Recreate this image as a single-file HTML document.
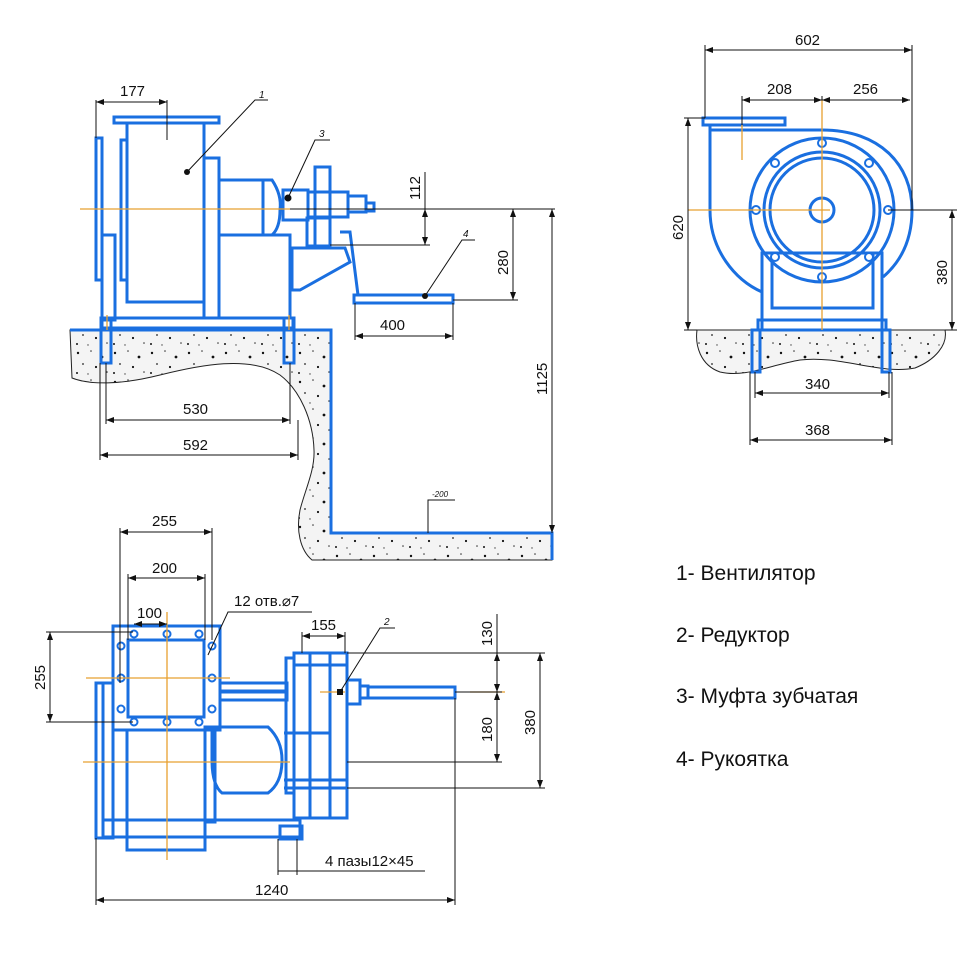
<!DOCTYPE html>
<html><head><meta charset="utf-8"><style>
html,body{margin:0;padding:0;background:#fff}
svg{display:block}
text{font-family:"Liberation Sans",sans-serif;fill:#111}
</style></head><body>
<svg width="970" height="970" viewBox="0 0 970 970" xmlns="http://www.w3.org/2000/svg">
<defs>
<pattern id="dots" width="37" height="29" patternUnits="userSpaceOnUse">
<rect width="37" height="29" fill="#f4f4f4"/>
<circle cx="4" cy="5" r="1.2" fill="#111"/><circle cx="17" cy="3" r="0.8" fill="#333"/>
<circle cx="28" cy="9" r="1.4" fill="#111"/><circle cx="9" cy="16" r="0.9" fill="#222"/>
<circle cx="22" cy="19" r="1.1" fill="#111"/><circle cx="33" cy="24" r="0.8" fill="#333"/>
<circle cx="3" cy="25" r="1" fill="#111"/><circle cx="14" cy="26" r="0.7" fill="#444"/>
</pattern>
<marker id="a" viewBox="0 0 8 6" refX="8" refY="3" markerWidth="8" markerHeight="6" orient="auto-start-reverse"><path d="M0,0 L8,3 L0,6 Z" fill="#111"/></marker>
</defs>

<path d="M70,330 L331,330 L331,533 L552,533 L552,560 L312,560 C300,550 296,530 300,510 C305,490 315,470 314,450 C313,420 300,390 280,375 C250,355 200,365 160,375 C120,385 90,385 72,378 Z" fill="url(#dots)" stroke="#222" stroke-width="1"/>
<path d="M70,330 L331,330 L331,533 L552,533 L552,560" fill="none" stroke="#1a6fe0" stroke-width="3"/>
<path d="M697,330 L945,330 C948,345 935,360 915,368 C880,375 840,355 800,360 C770,365 745,378 720,372 C700,365 695,345 697,330 Z" fill="url(#dots)" stroke="#222" stroke-width="1"/>

<g fill="none" stroke="#1a6fe0" stroke-width="3">
<rect x="114" y="117" width="105" height="6"/>
<rect x="127" y="123" width="77" height="179"/>
<rect x="96" y="138" width="6" height="142"/>
<rect x="121" y="140" width="6" height="140"/>
<rect x="102" y="235" width="13" height="85"/>
<rect x="204" y="158" width="15" height="160"/>
<rect x="219" y="180" width="44" height="55"/>
<path d="M263,180 L272,180 Q282,195 280,210 Q280,228 272,235 L263,235"/>
<rect x="219" y="235" width="71" height="83"/>
<rect x="102" y="318" width="191" height="10"/>
<rect x="283" y="190" width="25" height="30"/>
<rect x="315" y="167" width="15" height="80"/>
<rect x="308" y="192" width="40" height="25"/>
<rect x="348" y="196" width="18" height="16"/>
<rect x="366" y="203" width="8" height="8"/>
<rect x="307" y="218" width="23" height="28"/>
<path d="M292,248 L345,248 L350,262 L300,290 L292,290 Z"/>
<path d="M340,232 L350,232 L358,295"/>
<rect x="354" y="295" width="99" height="8"/>
<rect x="101" y="318" width="10" height="45"/>
<rect x="284" y="318" width="10" height="45"/>

<rect x="703" y="118" width="82" height="7"/>
<path d="M710,125 L710,210 C710,250 735,280 762,292"/>
<path d="M710,130 L822,130 C880,130 912,165 912,210 C912,245 897,265 883,277"/>
<circle cx="822" cy="210" r="72"/>
<circle cx="822" cy="210" r="58"/>
<circle cx="822" cy="210" r="52"/>
<circle cx="822" cy="210" r="12"/>
<rect x="762" y="253" width="120" height="77"/>
<rect x="772" y="253" width="101" height="55"/>
<rect x="758" y="320" width="128" height="10"/>
<rect x="752" y="330" width="8" height="42"/>
<rect x="882" y="330" width="8" height="42"/>

<rect x="96" y="683" width="7" height="155"/>
<rect x="103" y="683" width="10" height="155"/>
<rect x="127" y="730" width="78" height="120"/>
<rect x="113" y="626" width="107" height="104"/>
<rect x="128" y="640" width="76" height="77"/>
<rect x="220" y="683" width="67" height="8"/>
<rect x="220" y="692" width="67" height="8"/>
<path d="M212,727 L268,727 Q282,740 282,760 Q282,783 268,793 L222,793 Q212,785 212,760 Z"/>
<rect x="205" y="727" width="10" height="95"/>
<rect x="286" y="658" width="8" height="135"/>
<rect x="294" y="653" width="53" height="165"/>
<line x1="310" y1="653" x2="310" y2="818"/>
<line x1="330" y1="653" x2="330" y2="818"/>
<line x1="294" y1="665" x2="347" y2="665"/>
<line x1="284" y1="733" x2="330" y2="733"/>
<line x1="284" y1="780" x2="347" y2="780"/>
<line x1="284" y1="788" x2="347" y2="788"/>
<rect x="347" y="680" width="13" height="24"/>
<rect x="360" y="686" width="8" height="12"/>
<rect x="368" y="687" width="87" height="11"/>
<rect x="103" y="820" width="197" height="17"/>
<rect x="280" y="826" width="22" height="13"/>
</g>

<g fill="#fff" stroke="#1a6fe0" stroke-width="2">
<circle cx="822" cy="143" r="4"/><circle cx="822" cy="277" r="4"/><circle cx="756" cy="210" r="4"/><circle cx="888" cy="210" r="4"/>
<circle cx="775" cy="163" r="4"/><circle cx="869" cy="163" r="4"/><circle cx="775" cy="257" r="4"/><circle cx="869" cy="257" r="4"/>
<circle cx="134" cy="634" r="3.5"/><circle cx="167" cy="634" r="3.5"/><circle cx="199" cy="634" r="3.5"/>
<circle cx="134" cy="722" r="3.5"/><circle cx="167" cy="722" r="3.5"/><circle cx="199" cy="722" r="3.5"/>
<circle cx="121" cy="646" r="3.5"/><circle cx="121" cy="678" r="3.5"/><circle cx="121" cy="709" r="3.5"/>
<circle cx="212" cy="646" r="3.5"/><circle cx="212" cy="678" r="3.5"/><circle cx="212" cy="709" r="3.5"/>
</g>

<g stroke="#e8a030" stroke-width="1.3">
<line x1="80" y1="209" x2="290" y2="209"/>
<line x1="688" y1="210" x2="830" y2="210"/>
<line x1="822" y1="100" x2="822" y2="330"/>
<line x1="742" y1="125" x2="742" y2="160"/>
<line x1="86" y1="678" x2="230" y2="678"/>
<line x1="83" y1="762" x2="290" y2="762"/>
<line x1="167" y1="612" x2="167" y2="860"/>
<line x1="320" y1="692" x2="345" y2="692"/>
<line x1="470" y1="692" x2="505" y2="692"/>
<line x1="107" y1="315" x2="107" y2="330"/>
<line x1="289" y1="315" x2="289" y2="330"/>
</g>

<g stroke="#111" stroke-width="1" fill="none">
<line x1="96" y1="100" x2="96" y2="138"/><line x1="167" y1="100" x2="167" y2="140"/>
<line x1="96" y1="102" x2="167" y2="102" marker-start="url(#a)" marker-end="url(#a)"/>
<line x1="290" y1="209" x2="555" y2="209"/>
<line x1="330" y1="245" x2="430" y2="245"/>
<line x1="425" y1="172" x2="425" y2="209"/><line x1="425" y1="209" x2="425" y2="245" marker-start="url(#a)" marker-end="url(#a)"/>
<line x1="453" y1="300" x2="518" y2="300"/>
<line x1="513" y1="209" x2="513" y2="300" marker-start="url(#a)" marker-end="url(#a)"/>
<line x1="552" y1="209" x2="552" y2="533" marker-start="url(#a)" marker-end="url(#a)"/>
<line x1="355" y1="303" x2="355" y2="340"/><line x1="453" y1="303" x2="453" y2="340"/>
<line x1="355" y1="336" x2="453" y2="336" marker-start="url(#a)" marker-end="url(#a)"/>
<line x1="106" y1="363" x2="106" y2="424"/><line x1="290" y1="363" x2="290" y2="424"/>
<line x1="106" y1="420" x2="290" y2="420" marker-start="url(#a)" marker-end="url(#a)"/>
<line x1="100" y1="363" x2="100" y2="460"/><line x1="298" y1="420" x2="298" y2="460"/>
<line x1="100" y1="455" x2="298" y2="455" marker-start="url(#a)" marker-end="url(#a)"/>
<path d="M187,172 L255,100 L268,100"/><path d="M288,198 L315,140 L330,140"/><path d="M425,296 L462,240 L475,240"/>
<path d="M428,533 L428,500 L455,500"/>

<line x1="705" y1="45" x2="705" y2="118"/><line x1="912" y1="45" x2="912" y2="210"/>
<line x1="705" y1="50" x2="912" y2="50" marker-start="url(#a)" marker-end="url(#a)"/>
<line x1="742" y1="96" x2="742" y2="125"/><line x1="822" y1="96" x2="822" y2="100"/>
<line x1="742" y1="100" x2="822" y2="100" marker-start="url(#a)" marker-end="url(#a)"/>
<line x1="822" y1="100" x2="910" y2="100" marker-start="url(#a)" marker-end="url(#a)"/>
<line x1="684" y1="118" x2="705" y2="118"/><line x1="684" y1="330" x2="697" y2="330"/>
<line x1="688" y1="118" x2="688" y2="330" marker-start="url(#a)" marker-end="url(#a)"/>
<line x1="888" y1="210" x2="957" y2="210"/><line x1="945" y1="330" x2="957" y2="330"/>
<line x1="952" y1="210" x2="952" y2="330" marker-start="url(#a)" marker-end="url(#a)"/>
<line x1="755" y1="372" x2="755" y2="398"/><line x1="889" y1="372" x2="889" y2="398"/>
<line x1="755" y1="393" x2="889" y2="393" marker-start="url(#a)" marker-end="url(#a)"/>
<line x1="750" y1="372" x2="750" y2="445"/><line x1="892" y1="372" x2="892" y2="445"/>
<line x1="750" y1="440" x2="892" y2="440" marker-start="url(#a)" marker-end="url(#a)"/>

<line x1="120" y1="528" x2="120" y2="683"/><line x1="212" y1="528" x2="212" y2="640"/>
<line x1="120" y1="532" x2="212" y2="532" marker-start="url(#a)" marker-end="url(#a)"/>
<line x1="128" y1="574" x2="128" y2="640"/><line x1="205" y1="574" x2="205" y2="640"/>
<line x1="128" y1="578" x2="205" y2="578" marker-start="url(#a)" marker-end="url(#a)"/>
<line x1="134" y1="624" x2="167" y2="624" marker-start="url(#a)" marker-end="url(#a)"/>
<line x1="46" y1="632" x2="133" y2="632"/><line x1="46" y1="722" x2="133" y2="722"/>
<line x1="50" y1="632" x2="50" y2="722" marker-start="url(#a)" marker-end="url(#a)"/>
<path d="M208,655 L228,612 L312,612"/>
<path d="M340,692 L380,628 L395,628"/>
<line x1="302" y1="632" x2="302" y2="653"/><line x1="345" y1="632" x2="345" y2="653"/>
<line x1="302" y1="636" x2="345" y2="636" marker-start="url(#a)" marker-end="url(#a)"/>
<line x1="347" y1="653" x2="545" y2="653"/>
<line x1="455" y1="692" x2="502" y2="692"/>
<line x1="347" y1="762" x2="502" y2="762"/>
<line x1="347" y1="788" x2="545" y2="788"/>
<line x1="497" y1="614" x2="497" y2="653"/>
<line x1="497" y1="653" x2="497" y2="692" marker-start="url(#a)" marker-end="url(#a)"/>
<line x1="497" y1="692" x2="497" y2="762" marker-start="url(#a)" marker-end="url(#a)"/>
<line x1="540" y1="653" x2="540" y2="788" marker-start="url(#a)" marker-end="url(#a)"/>
<line x1="278" y1="839" x2="278" y2="875"/><line x1="297" y1="839" x2="297" y2="875"/>
<line x1="278" y1="871" x2="425" y2="871"/>
<line x1="96" y1="838" x2="96" y2="905"/><line x1="455" y1="698" x2="455" y2="905"/>
<line x1="96" y1="900" x2="455" y2="900" marker-start="url(#a)" marker-end="url(#a)"/>
</g>
<g fill="#111"><circle cx="187" cy="172" r="3"/><circle cx="288" cy="198" r="3.5"/><circle cx="425" cy="296" r="3"/><rect x="337" y="689" width="6" height="6"/></g>

<g font-size="15">
<text x="120" y="96">177</text>
<text x="380" y="330">400</text>
<text x="183" y="414">530</text>
<text x="183" y="450">592</text>
<text x="795" y="45">602</text>
<text x="767" y="94">208</text>
<text x="853" y="94">256</text>
<text x="805" y="389">340</text>
<text x="805" y="435">368</text>
<text x="152" y="526">255</text>
<text x="152" y="573">200</text>
<text x="137" y="618">100</text>
<text x="234" y="606">12 отв.⌀7</text>
<text x="311" y="630">155</text>
<text x="325" y="866">4 пазы12×45</text>
<text x="255" y="895">1240</text>
<text transform="translate(420,200) rotate(-90)">112</text>
<text transform="translate(508,275) rotate(-90)">280</text>
<text transform="translate(547,395) rotate(-90)">1125</text>
<text transform="translate(683,240) rotate(-90)">620</text>
<text transform="translate(947,285) rotate(-90)">380</text>
<text transform="translate(45,690) rotate(-90)">255</text>
<text transform="translate(492,646) rotate(-90)">130</text>
<text transform="translate(492,742) rotate(-90)">180</text>
<text transform="translate(535,735) rotate(-90)">380</text>
</g>
<g font-size="10" font-style="italic"><text x="259" y="98">1</text><text x="319" y="137">3</text><text x="463" y="237">4</text><text x="384" y="625">2</text><text x="432" y="497" font-size="8">-200</text></g>
<g font-size="21">
<text x="676" y="580">1- Вентилятор</text>
<text x="676" y="642">2- Редуктор</text>
<text x="676" y="703">3- Муфта зубчатая</text>
<text x="676" y="766">4- Рукоятка</text>
</g>
</svg>
</body></html>
